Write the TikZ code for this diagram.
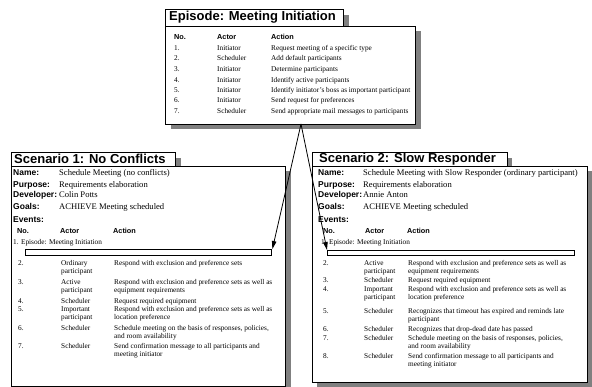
\documentclass[tikz,border=0pt]{standalone}
\usepackage{fontspec}
\setmainfont{Liberation Serif}
\setsansfont{Liberation Sans}
\usetikzlibrary{arrows.meta,shadows}

\newcommand{\twoline}[2]{\begin{tabular}[t]{@{}l@{}}#1\\#2\end{tabular}}

\begin{document}
\begin{tikzpicture}[x=1pt, y=-1pt,
    shadowed/.style = {general shadow={fill=black!50, shadow xshift=5pt, shadow yshift=-5pt}},
    box/.style = {draw, fill=white, line width=1pt, inner sep=0, anchor=north west, shadowed},
    tab/.style = {box, line width=1.2pt},
    title/.style = {anchor=west, inner sep=0, font=\sffamily\bfseries\fontsize{13}{15}\selectfont},
    lbl/.style = {anchor=base west, inner sep=0, font=\sffamily\bfseries\fontsize{8.5}{10}\selectfont},
    val/.style = {anchor=base west, inner sep=0, font=\fontsize{8.6}{10}\selectfont},
    head/.style = {anchor=base west, inner sep=0, font=\sffamily\bfseries\fontsize{7.3}{8}\selectfont},
    cell/.style = {anchor=base west, inner sep=0, font=\fontsize{7.3}{8.4}\selectfont},
    bar/.style = {draw, line width=1.4pt, fill=white, inner sep=0, anchor=north west},
    link/.style = {-{Triangle[length=8pt,width=4.5pt]}, line width=0.8pt}]
    \useasboundingbox (0,0) rectangle (592,387);

    % episode box
    \node[tab, minimum width=178pt, minimum height=17pt] (etab) at (165,9) {};
    \node[box, minimum width=250pt, minimum height=98pt] (ebody) at (165,26) {};
    \node[title] (etitle) at (169,17.5) {Episode: Meeting Initiation};
    \node[head] (eno) at (174,40) {No.};
    \node[head] (eactor) at (217,40) {Actor};
    \node[head] (eaction) at (271,40) {Action};
    \node[cell] (e1n) at (174,50.5) {1.};
    \node[cell] (e1a) at (217,50.5) {Initiator};
    \node[cell] (e1t) at (271,50.5) {Request meeting of a specific type};
    \node[cell] (e2n) at (174,61) {2.};
    \node[cell] (e2a) at (217,61) {Scheduler};
    \node[cell] (e2t) at (271,61) {Add default participants};
    \node[cell] (e3n) at (174,72) {3.};
    \node[cell] (e3a) at (217,72) {Initiator};
    \node[cell] (e3t) at (271,72) {Determine participants};
    \node[cell] (e4n) at (174,82.5) {4.};
    \node[cell] (e4a) at (217,82.5) {Initiator};
    \node[cell] (e4t) at (271,82.5) {Identify active participants};
    \node[cell] (e5n) at (174,92.5) {5.};
    \node[cell] (e5a) at (217,92.5) {Initiator};
    \node[cell] (e5t) at (271,92.5) {Identify initiator's boss as important participant};
    \node[cell] (e6n) at (174,102.5) {6.};
    \node[cell] (e6a) at (217,102.5) {Initiator};
    \node[cell] (e6t) at (271,102.5) {Send request for preferences};
    \node[cell] (e7n) at (174,113.5) {7.};
    \node[cell] (e7a) at (217,113.5) {Scheduler};
    \node[cell] (e7t) at (271,113.5) {Send appropriate mail messages to participants};
    \coordinate (root) at (301,124);

    % scenario 1
    \node[tab, minimum width=164pt, minimum height=14pt] (atab) at (11,152) {};
    \node[box, minimum width=274pt, minimum height=220pt] (abody) at (11,166) {};
    \node[title] (atitle) at (14,159) {Scenario 1: No Conflicts};
    \node[lbl] (aname) at (13,176) {Name:};
    \node[val] (anamev) at (59,176) {Schedule Meeting (no conflicts)};
    \node[lbl] (apurp) at (13,187.5) {Purpose:};
    \node[val] (apurpv) at (59,187.5) {Requirements elaboration};
    \node[lbl] (adev) at (13,198) {Developer:};
    \node[val] (adevv) at (59,198) {Colin Potts};
    \node[lbl] (agoal) at (13,210) {Goals:};
    \node[val] (agoalv) at (59,210) {ACHIEVE Meeting scheduled};
    \node[lbl] (aev) at (13,223) {Events:};
    \node[head] (ano) at (17,234) {No.};
    \node[head] (aactor) at (60,234) {Actor};
    \node[head] (aaction) at (113,234) {Action};
    \node[cell] (a1) at (13,244.5) {1. Episode: Meeting Initiation};
    \node[bar, minimum width=246pt, minimum height=6pt] (bar1) at (25,249) {};
    \node[cell] (a2n) at (18,265.5) {2.};
    \node[cell] (a2a) at (61,265.5) {\twoline{Ordinary}{participant}};
    \node[cell] (a2t) at (114,265.5) {Respond with exclusion and preference sets};
    \node[cell] (a3n) at (18,284.5) {3.};
    \node[cell] (a3a) at (61,284.5) {\twoline{Active}{participant}};
    \node[cell] (a3t) at (114,284.5) {\twoline{Respond with exclusion and preference sets as well as}{equipment requirements}};
    \node[cell] (a4n) at (18,303.5) {4.};
    \node[cell] (a4a) at (61,303.5) {Scheduler};
    \node[cell] (a4t) at (114,303.5) {Request required equipment};
    \node[cell] (a5n) at (18,311.5) {5.};
    \node[cell] (a5a) at (61,311.5) {\twoline{Important}{participant}};
    \node[cell] (a5t) at (114,311.5) {\twoline{Respond with exclusion and preference sets as well as}{location preference}};
    \node[cell] (a6n) at (18,330.5) {6.};
    \node[cell] (a6a) at (61,330.5) {Scheduler};
    \node[cell] (a6t) at (114,330.5) {\twoline{Schedule meeting on the basis of responses, policies,}{and room availability}};
    \node[cell] (a7n) at (18,348.5) {7.};
    \node[cell] (a7a) at (61,348.5) {Scheduler};
    \node[cell] (a7t) at (114,348.5) {\twoline{Send confirmation message to all participants and}{meeting initiator}};

    % scenario 2
    \node[tab, minimum width=195pt, minimum height=14pt] (btab) at (311.5,152) {};
    \node[box, minimum width=275.5pt, minimum height=216pt] (bbody) at (311.5,166) {};
    \node[title] (btitle) at (319,159) {Scenario 2: Slow Responder};
    \node[lbl] (bname) at (318,176) {Name:};
    \node[val] (bnamev) at (363,176) {Schedule Meeting with Slow Responder (ordinary participant)};
    \node[lbl] (bpurp) at (318,187.5) {Purpose:};
    \node[val] (bpurpv) at (363,187.5) {Requirements elaboration};
    \node[lbl] (bdev) at (318,198) {Developer:};
    \node[val] (bdevv) at (363,198) {Annie Anton};
    \node[lbl] (bgoal) at (318,210) {Goals:};
    \node[val] (bgoalv) at (363,210) {ACHIEVE Meeting scheduled};
    \node[lbl] (bev) at (318,223) {Events:};
    \node[head] (bno) at (323,234) {No.};
    \node[head] (bactor) at (365,234) {Actor};
    \node[head] (baction) at (407,234) {Action};
    \node[cell] (b1) at (321,244.5) {1. Episode: Meeting Initiation};
    \node[bar, minimum width=247pt, minimum height=5pt] (bar2) at (327,250) {};
    \node[cell] (b2n) at (323,265.5) {2.};
    \node[cell] (b2a) at (364,265.5) {\twoline{Active}{participant}};
    \node[cell] (b2t) at (408,265.5) {\twoline{Respond with exclusion and preference sets as well as}{equipment requirements}};
    \node[cell] (b3n) at (323,282.5) {3.};
    \node[cell] (b3a) at (364,282.5) {Scheduler};
    \node[cell] (b3t) at (408,282.5) {Request required equipment};
    \node[cell] (b4n) at (323,291.5) {4.};
    \node[cell] (b4a) at (364,291.5) {\twoline{Important}{participant}};
    \node[cell] (b4t) at (408,291.5) {\twoline{Respond with exclusion and preference sets as well as}{location preference}};
    \node[cell] (b5n) at (323,313.5) {5.};
    \node[cell] (b5a) at (364,313.5) {Scheduler};
    \node[cell] (b5t) at (408,313.5) {\twoline{Recognizes that timeout has expired and reminds late}{participant}};
    \node[cell] (b6n) at (323,331.5) {6.};
    \node[cell] (b6a) at (364,331.5) {Scheduler};
    \node[cell] (b6t) at (408,331.5) {Recognizes that drop-dead date has passed};
    \node[cell] (b7n) at (323,340.5) {7.};
    \node[cell] (b7a) at (364,340.5) {Scheduler};
    \node[cell] (b7t) at (408,340.5) {\twoline{Schedule meeting on the basis of responses, policies,}{and room availability}};
    \node[cell] (b8n) at (323,358.5) {8.};
    \node[cell] (b8a) at (364,358.5) {Scheduler};
    \node[cell] (b8t) at (408,358.5) {\twoline{Send confirmation message to all participants and}{meeting initiator}};

    % episode links
    \draw[link] (root) -- (bar1.north east);
    \draw[link] (root) -- (bar2.north west);
\end{tikzpicture}
\end{document}
